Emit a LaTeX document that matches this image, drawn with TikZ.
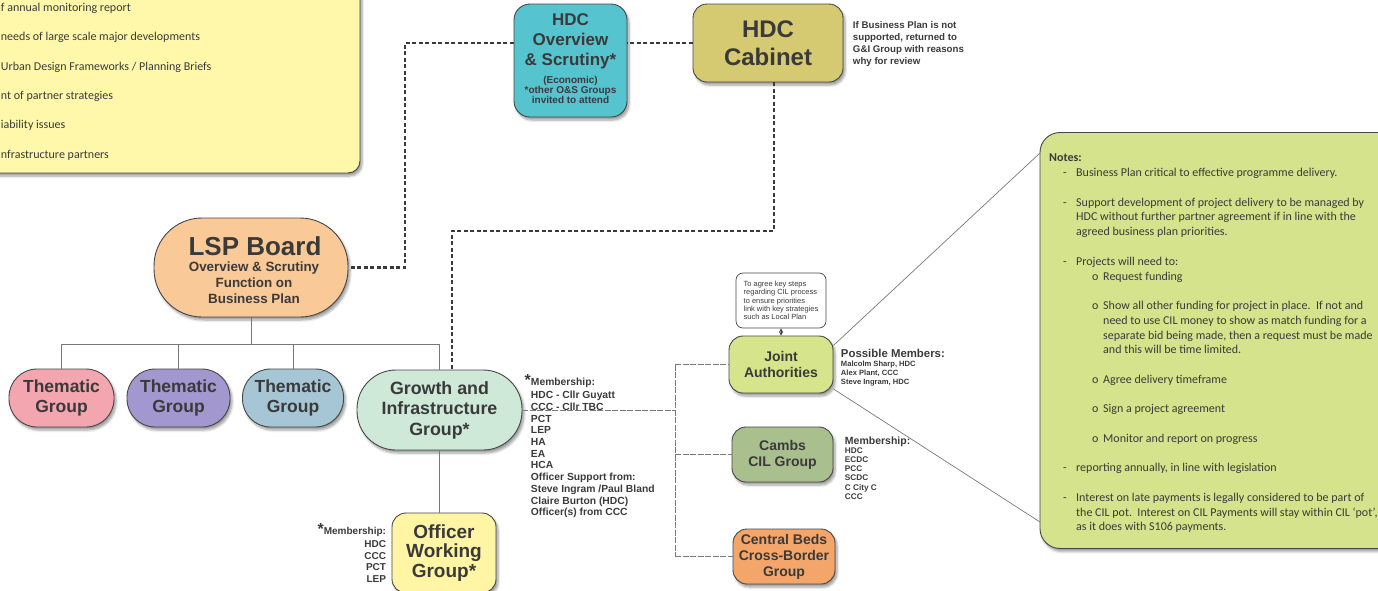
\documentclass[tikz,border=0pt]{standalone}
\usepackage{fontspec}
\setmainfont{Liberation Sans}
\newfontfamily\calib{Carlito}
\usetikzlibrary{shadows.blur}

\definecolor{aimsyellow}{RGB}{255,248,170}
\definecolor{ostea}{RGB}{86,196,206}
\definecolor{cabkhaki}{RGB}{213,201,113}
\definecolor{lsppeach}{RGB}{250,201,152}
\definecolor{thpink}{RGB}{244,166,176}
\definecolor{thpurple}{RGB}{162,151,206}
\definecolor{thblue}{RGB}{166,198,213}
\definecolor{gimint}{RGB}{206,233,215}
\definecolor{owgyellow}{RGB}{255,245,165}
\definecolor{jalime}{RGB}{214,228,140}
\definecolor{cilsage}{RGB}{169,191,141}
\definecolor{bedsorange}{RGB}{244,166,106}
\definecolor{noteslime}{RGB}{212,227,140}
\definecolor{boxedge}{RGB}{70,70,70}
\definecolor{boxtext}{RGB}{58,58,58}
\definecolor{treegray}{RGB}{120,120,120}

\newcommand{\notedash}{\hspace*{14pt}\makebox[13pt][l]{-}}
\newcommand{\noteind}{\hspace*{27pt}}
\newcommand{\notebul}{\hspace*{43pt}\makebox[11pt][l]{o}}
\newcommand{\notesub}{\hspace*{54pt}}

\tikzset{
  grpbox/.style={draw=boxedge, line width=0.9pt, inner sep=0pt, align=center, text=boxtext, font=\bfseries,
    blur shadow={shadow xshift=2pt, shadow yshift=-3pt, shadow blur steps=5, shadow blur radius=2.5pt, shadow opacity=40}},
  plainbox/.style={draw=boxedge, line width=0.7pt, inner sep=0pt, text=boxtext},
  bigdash/.style={draw=boxtext, line width=2.6pt, dash pattern=on 4pt off 2.5pt},
  treeline/.style={draw=treegray, line width=0.9pt},
  thinlink/.style={draw=treegray, line width=0.8pt, dash pattern=on 6pt off 1.5pt},
  lbl/.style={inner sep=0.75pt, text=boxtext, font=\bfseries},
}

\begin{document}
\begin{tikzpicture}[x=1pt,y=1pt,yscale=-1,xscale=1]
\useasboundingbox (0,0) rectangle (1378,590);

%Rounded Rect [aims]
\node [grpbox, fill=aimsyellow, rounded corners=12pt, minimum width=390pt, minimum height=193pt] (aims) at (165,76.5) {};
% Text Node
\node [anchor=west, inner sep=0.75pt, align=left, text=boxtext, font=\calib\fontsize{12}{29.4}\selectfont] (aimslist) at (0,81.5) {f annual monitoring report\\needs of large scale major developments\\Urban Design Frameworks / Planning Briefs\\nt of partner strategies\\iability issues\\nfrastructure partners};

%Rounded Rect [HDC overview]
\node [grpbox, fill=ostea, rounded corners=16pt, minimum width=113pt, minimum height=113pt] (hdcos) at (570.5,60.5) {};
% Text Node
\node [lbl, align=center, font=\bfseries\fontsize{17}{20}\selectfont] (hdcostitle) at (570.5,41) {HDC\\Overview\\\& Scrutiny*};
% Text Node
\node [lbl, align=center, font=\bfseries\fontsize{10}{10}\selectfont] (hdcosnote) at (570.5,90) {(Economic)\\*other O\&S Groups\\invited to attend};

%Rounded Rect [HDC cabinet]
\node [grpbox, fill=cabkhaki, rounded corners=14pt, minimum width=150pt, minimum height=78pt, font=\bfseries\fontsize{24}{28}\selectfont] (cab) at (768,43) {HDC\\Cabinet};
% Text Node
\node [lbl, anchor=west, align=left, font=\bfseries\fontsize{9.7}{12}\selectfont] (cabnote) at (852,44) {If Business Plan is not\\supported, returned to\\G\&I Group with reasons\\why for review};

%Rounded Rect [LSP board]
\node [grpbox, fill=lsppeach, rounded corners=48pt, minimum width=194pt, minimum height=99pt] (lsp) at (251,267.5) {};
% Text Node
\node [lbl, font=\bfseries\fontsize{26}{26}\selectfont] (lsptitle) at (255,246) {LSP Board};
% Text Node
\node [lbl, align=center, font=\bfseries\fontsize{13.4}{16}\selectfont] (lspsub) at (254,283) {Overview \& Scrutiny\\Function on\\Business Plan};

%Rounded Rect [groups]
\node [grpbox, fill=thpink, rounded corners=28pt, minimum width=105pt, minimum height=58pt, font=\bfseries\fontsize{17.5}{20.5}\selectfont] (tg1) at (61.5,398) {Thematic\\Group};
\node [grpbox, fill=thpurple, rounded corners=28pt, minimum width=103pt, minimum height=58pt, font=\bfseries\fontsize{17.5}{20.5}\selectfont] (tg2) at (178.5,398) {Thematic\\Group};
\node [grpbox, fill=thblue, rounded corners=28pt, minimum width=101pt, minimum height=58pt, font=\bfseries\fontsize{17.5}{20.5}\selectfont] (tg3) at (293,398) {Thematic\\Group};
\node [grpbox, fill=gimint, rounded corners=39pt, minimum width=165pt, minimum height=80pt, font=\bfseries\fontsize{17.8}{20.5}\selectfont] (gi) at (439.5,410) {Growth and\\Infrastructure\\Group*};

% Text Node
\node [lbl, anchor=west, align=left, font=\bfseries\fontsize{10.3}{11.7}\selectfont] (gimembers) at (530,446) {\llap{\fontsize{16}{16}\selectfont *}Membership:\\[2pt]HDC - Cllr Guyatt\\CCC - Cllr TBC\\PCT\\LEP\\HA\\EA\\HCA\\Officer Support from:\\Steve Ingram /Paul Bland\\Claire Burton (HDC)\\Officer(s) from CCC};

%Rounded Rect [officer group]
\node [grpbox, fill=owgyellow, rounded corners=14pt, minimum width=104pt, minimum height=80pt, font=\bfseries\fontsize{19}{19.5}\selectfont] (owg) at (444,553) {Officer\\Working\\Group*};
% Text Node
\node [lbl, anchor=east, align=right, font=\bfseries\fontsize{10}{11.6}\selectfont] (owgmembers) at (387,553) {{\fontsize{16}{16}\selectfont *}Membership:\\[1pt]HDC\\CCC\\PCT\\LEP};

%Rounded Rect [joint authorities]
\node [plainbox, fill=white, rounded corners=7pt, minimum width=90pt, minimum height=55pt, align=left, font=\fontsize{7.45}{8.3}\selectfont] (jnote) at (781,300.5) {To agree key steps\\regarding CIL process\\to ensure priorities\\link with key strategies\\such as Local Plan};
\node [grpbox, fill=jalime, rounded corners=14pt, minimum width=104pt, minimum height=57pt, font=\bfseries\fontsize{14}{16.5}\selectfont] (ja) at (781,364.5) {Joint\\Authorities};
% Text Node
\node [lbl, anchor=west, align=left, font=\bfseries\fontsize{7.6}{9}\selectfont] (jamembers) at (840,368) {{\fontsize{11.4}{11.4}\selectfont Possible Members:}\\Malcolm Sharp, HDC\\Alex Plant, CCC\\Steve Ingram, HDC};

%Rounded Rect [cambs]
\node [grpbox, fill=cilsage, rounded corners=14pt, minimum width=101pt, minimum height=55pt, font=\bfseries\fontsize{14}{16}\selectfont] (cil) at (782.5,454.5) {Cambs\\CIL Group};
% Text Node
\node [lbl, anchor=west, align=left, font=\bfseries\fontsize{8.2}{9.2}\selectfont] (cilmembers) at (844,468) {{\fontsize{10.5}{10.5}\selectfont Membership:}\\HDC\\ECDC\\PCC\\SCDC\\C City C\\CCC};

%Rounded Rect [central beds]
\node [grpbox, fill=bedsorange, rounded corners=14pt, minimum width=102pt, minimum height=55pt, font=\bfseries\fontsize{14}{16}\selectfont] (beds) at (784,556.5) {Central Beds\\Cross-Border\\Group};

%Rounded Rect [notes]
\node [grpbox, fill=noteslime, rounded corners=20pt, minimum width=360pt, minimum height=416pt] (notes) at (1220,340.5) {};
% Text Node
\node [anchor=west, inner sep=0pt, align=left, text=boxtext, font=\calib\fontsize{12}{14.76}\selectfont] (notestext) at (1049,343.5) {\textbf{Notes:}\\
\notedash Business Plan critical to effective programme delivery.\\[14.76pt]
\notedash Support development of project delivery to be managed by\\
\noteind HDC without further partner agreement if in line with the\\
\noteind agreed business plan priorities.\\[14.76pt]
\notedash Projects will need to:\\
\notebul Request funding\\[14.76pt]
\notebul Show all other funding for project in place.\ \ If not and\\
\notesub need to use CIL money to show as match funding for a\\
\notesub separate bid being made, then a request must be made\\
\notesub and this will be time limited.\\[14.76pt]
\notebul Agree delivery timeframe\\[14.76pt]
\notebul Sign a project agreement\\[14.76pt]
\notebul Monitor and report on progress\\[14.76pt]
\notedash reporting annually, in line with legislation\\[14.76pt]
\notedash Interest on late payments is legally considered to be part of\\
\noteind the CIL pot.\ \ Interest on CIL Payments will stay within CIL ‘pot’,\\
\noteind as it does with S106 payments.};

% bends
\coordinate (osbend) at (405,43);
\coordinate (cabdrop) at (774,231);
\coordinate (gidrop) at (452,231);
\coordinate (bar) at (0,344);
\coordinate (split) at (675,0);
\coordinate (calla) at (1040,153);
\coordinate (callb) at (1040,522);

%Dashed Lines
\draw [bigdash] (cab.west) -- (hdcos.east |- cab.west);
\draw [bigdash] (hdcos.west |- cab.west) -- (osbend) |- (lsp.east);
\draw [bigdash] (cabdrop |- cab.south) -- (cabdrop) -- (gidrop) -- (gidrop |- gi.north);

%Straight Lines
\draw [treeline] (lsp.south) -- (lsp.south |- bar);
\draw [treeline] (tg1.north |- bar) -- (gi.north |- bar);
\draw [treeline] (tg1.north) -- (tg1.north |- bar);
\draw [treeline] (tg2.north) -- (tg2.north |- bar);
\draw [treeline] (tg3.north) -- (tg3.north |- bar);
\draw [treeline] (gi.north) -- (gi.north |- bar);
\draw [treeline] (gi.south) -- (gi.south |- owg.north);

%Straight Lines
\draw [thinlink] (gi.east) -- (gi.east -| split);
\draw [thinlink] (ja.west -| split) -- (beds.west -| split);
\draw [thinlink] (ja.west -| split) -- (ja.west);
\draw [thinlink] (cil.west -| split) -- (cil.west);
\draw [thinlink] (beds.west -| split) -- (beds.west);

%Straight Lines
\draw [<->, >=stealth, line width=0.8pt, draw=boxtext] (jnote.south) -- (ja.north);
\draw [draw=treegray, line width=0.7pt] (ja.20) -- (calla);
\draw [draw=treegray, line width=0.7pt] (ja.-25) -- (callb);

\end{tikzpicture}
\end{document}
